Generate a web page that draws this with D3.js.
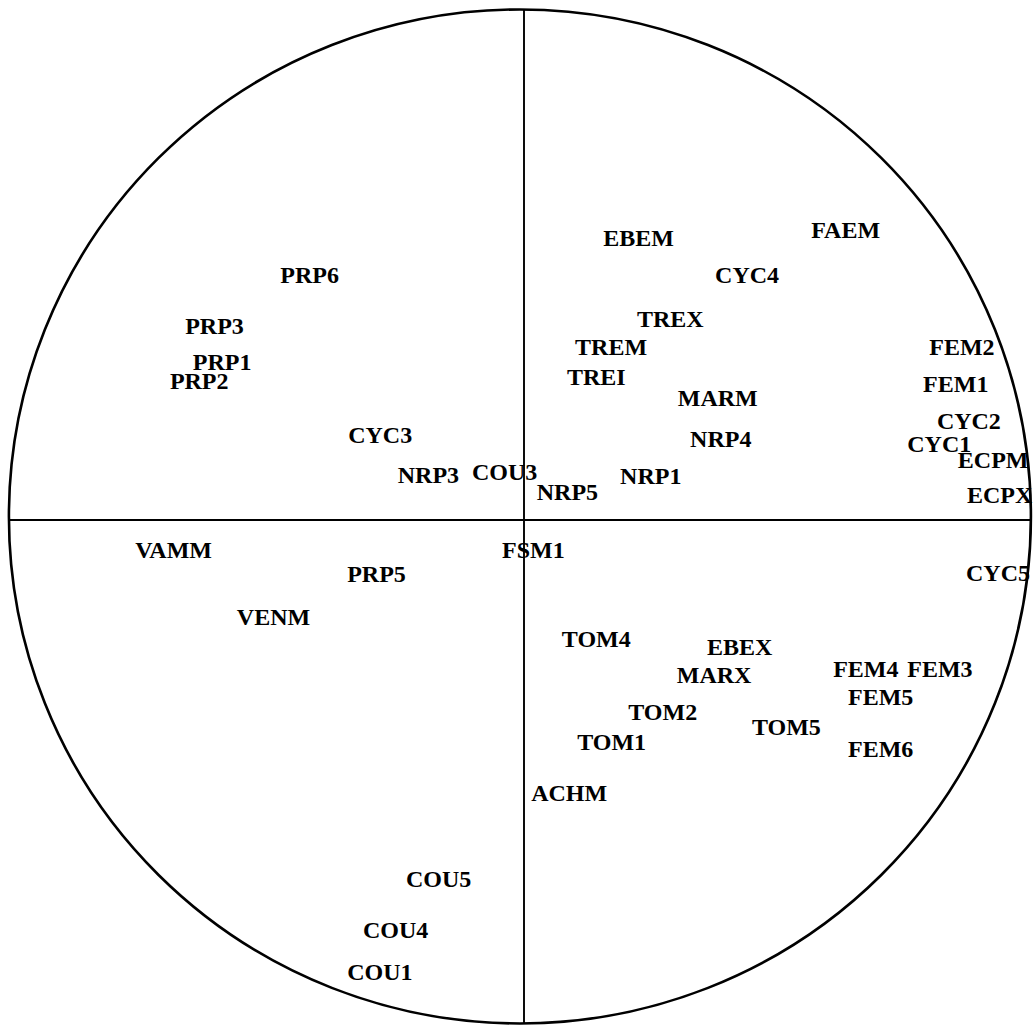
<!DOCTYPE html>
<html>
<head>
<meta charset="utf-8">
<script src="https://cdn.jsdelivr.net/npm/d3@7"></script>
<style>
  html, body { margin: 0; padding: 0; background: #fff; }
  svg { display: block; }
</style>
</head>
<body>
<svg id="chart" width="1033" height="1026"></svg>
<script>
// Variable labels and their coordinates on the two factorial axes
const labels = ["PRP6","PRP3","PRP1","PRP2","CYC3","NRP3","COU3","NRP5","NRP1","NRP4",
  "MARM","TREI","TREM","TREX","EBEM","CYC4","FAEM","FEM2","FEM1","CYC2",
  "CYC1","ECPM","ECPX","CYC5","VAMM","PRP5","FSM1","VENM","TOM4","EBEX",
  "MARX","FEM4","FEM3","FEM5","TOM2","TOM5","TOM1","FEM6","ACHM","COU5",
  "COU4","COU1"];
const axis1 = [-0.477,-0.663,-0.648,-0.693,-0.344,-0.247,-0.102,0.025,0.188,0.325,
  0.301,0.084,0.100,0.221,0.155,0.374,0.562,0.793,0.781,0.808,
  0.750,0.849,0.867,0.865,-0.761,-0.346,-0.043,-0.562,0.074,0.358,
  0.299,0.605,0.750,0.634,0.204,0.446,0.104,0.634,0.014,-0.231,
  -0.315,-0.346];
const axis2 = [0.467,0.367,0.296,0.258,0.152,0.073,0.079,0.039,0.071,0.144,
  0.225,0.266,0.325,0.381,0.540,0.467,0.556,0.325,0.252,0.179,
  0.134,0.103,0.034,-0.120,-0.075,-0.122,-0.075,-0.207,-0.250,-0.266,
  -0.321,-0.310,-0.310,-0.365,-0.394,-0.424,-0.454,-0.467,-0.554,-0.724,
  -0.824,-0.907];
// correlation circle (unit radius), slightly off the axes crossing in the scan
const circleCenter = [-0.008, 0.007];
const circleRadius = 1;

const svg = d3.select("#chart");
const x = d3.scaleLinear().domain([-1, 1]).range([13, 1035]);
const y = d3.scaleLinear().domain([-1, 1]).range([1027, 13]);

const cx = x(circleCenter[0]), cy = y(circleCenter[1]);
const rx = x(circleRadius) - x(0), ry = y(0) - y(circleRadius);

svg.append("rect").attr("width", 1033).attr("height", 1026).attr("fill", "#fff");

svg.append("ellipse")
  .attr("cx", cx).attr("cy", cy).attr("rx", rx).attr("ry", ry)
  .attr("fill", "none").attr("stroke", "#000").attr("stroke-width", 2.6);

// axes through the origin, clipped to the circle
const x0 = x(0), y0 = y(0);
const dyAt = Math.sqrt(Math.max(0, 1 - ((x0 - cx) / rx) ** 2)) * ry;
const dxAt = Math.sqrt(Math.max(0, 1 - ((y0 - cy) / ry) ** 2)) * rx;
svg.append("line")
  .attr("x1", x0).attr("x2", x0).attr("y1", cy - dyAt).attr("y2", cy + dyAt)
  .attr("stroke", "#000").attr("stroke-width", 1.9);
svg.append("line")
  .attr("x1", cx - dxAt).attr("x2", cx + dxAt).attr("y1", y0).attr("y2", y0)
  .attr("stroke", "#000").attr("stroke-width", 1.9);

const data = labels.map((l, i) => ({ label: l, a: axis1[i], b: axis2[i] }));

svg.append("g").selectAll("text")
  .data(data)
  .join("text")
  .attr("x", d => x(d.a))
  .attr("y", d => y(d.b))
  .attr("font-family", "'Liberation Serif', 'Times New Roman', serif")
  .attr("font-weight", "bold")
  .attr("font-size", 24)
  .attr("fill", "#000")
  .text(d => d.label);
</script>
</body>
</html>
